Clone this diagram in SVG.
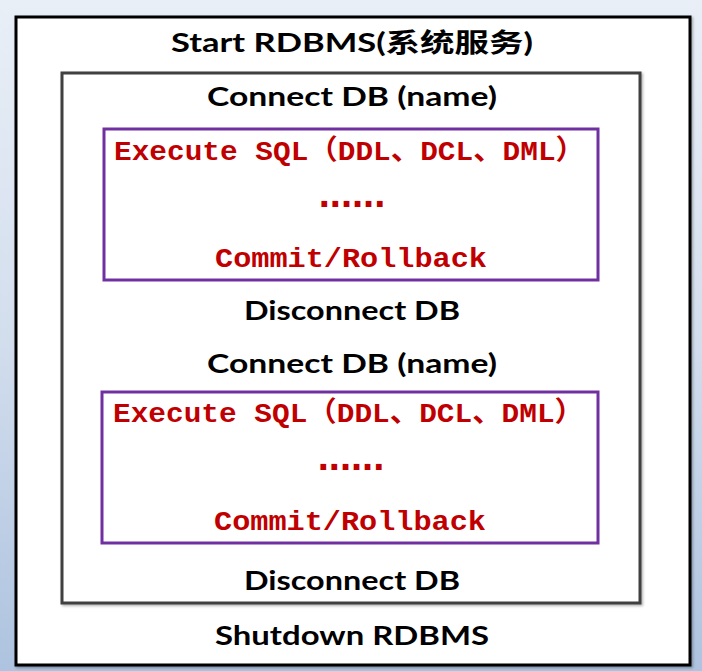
<svg xmlns="http://www.w3.org/2000/svg" width="702" height="671" viewBox="0 0 702 671">
<defs>
<linearGradient id="bg" x1="0" y1="0" x2="0" y2="1">
<stop offset="0" stop-color="#e9eff7"/>
<stop offset="0.5" stop-color="#d3deed"/>
<stop offset="1" stop-color="#adc3df"/>
</linearGradient>
<filter id="sh" x="-5%" y="-5%" width="110%" height="110%">
<feDropShadow dx="1.5" dy="1.5" stdDeviation="1.2" flood-color="#000" flood-opacity="0.3"/>
</filter>
<style>
.lbl{font-family:Lato,"Open Sans","Noto Sans CJK SC",sans-serif;font-weight:700;font-size:26px;fill:#000;text-anchor:middle}
.red{font-family:"Liberation Mono","Noto Sans CJK SC",monospace;font-weight:700;font-size:28px;fill:#c00000}
.dots{font-family:"Liberation Sans",sans-serif;font-weight:700;font-size:40px;fill:#c00000;text-anchor:middle}
.outer{fill:#fff;stroke:#000;stroke-width:3}
.inner{fill:#fff;stroke:#3f3f3f;stroke-width:3}
.sql{fill:#fff;stroke:#7030a0;stroke-width:3}
</style>
</defs>
<rect width="702" height="671" fill="url(#bg)"/>
<g id="rdbms">
<rect class="outer" x="16" y="17" width="674" height="648" filter="url(#sh)"/>
<text class="lbl" x="352" y="52" textLength="362" lengthAdjust="spacingAndGlyphs">Start RDBMS(系统服务)</text>
<text class="lbl" x="352" y="645" textLength="274" lengthAdjust="spacingAndGlyphs">Shutdown RDBMS</text>
</g>
<g id="session">
<rect class="inner" x="62" y="73" width="578" height="530" filter="url(#sh)"/>
<text class="lbl" x="352" y="106" textLength="290" lengthAdjust="spacingAndGlyphs">Connect DB (name)</text>
<text class="lbl" x="352" y="320" textLength="216" lengthAdjust="spacingAndGlyphs">Disconnect DB</text>
<text class="lbl" x="352" y="373" textLength="290" lengthAdjust="spacingAndGlyphs">Connect DB (name)</text>
<text class="lbl" x="352" y="590" textLength="216" lengthAdjust="spacingAndGlyphs">Disconnect DB</text>
</g>
<g id="tx1">
<rect class="sql" x="104" y="129" width="494" height="151"/>
<text class="red" x="114" y="160" textLength="471" lengthAdjust="spacingAndGlyphs">Execute SQL（DDL、DCL、DML）</text>
<text class="dots" x="352" y="207">......</text>
<text class="red" x="215" y="267" textLength="272" lengthAdjust="spacingAndGlyphs">Commit/Rollback</text>
</g>
<g id="tx2">
<rect class="sql" x="102" y="392" width="496" height="151"/>
<text class="red" x="113" y="422" textLength="471" lengthAdjust="spacingAndGlyphs">Execute SQL（DDL、DCL、DML）</text>
<text class="dots" x="351" y="470">......</text>
<text class="red" x="214" y="530" textLength="272" lengthAdjust="spacingAndGlyphs">Commit/Rollback</text>
</g>
<g id="connectors"/>
</svg>
